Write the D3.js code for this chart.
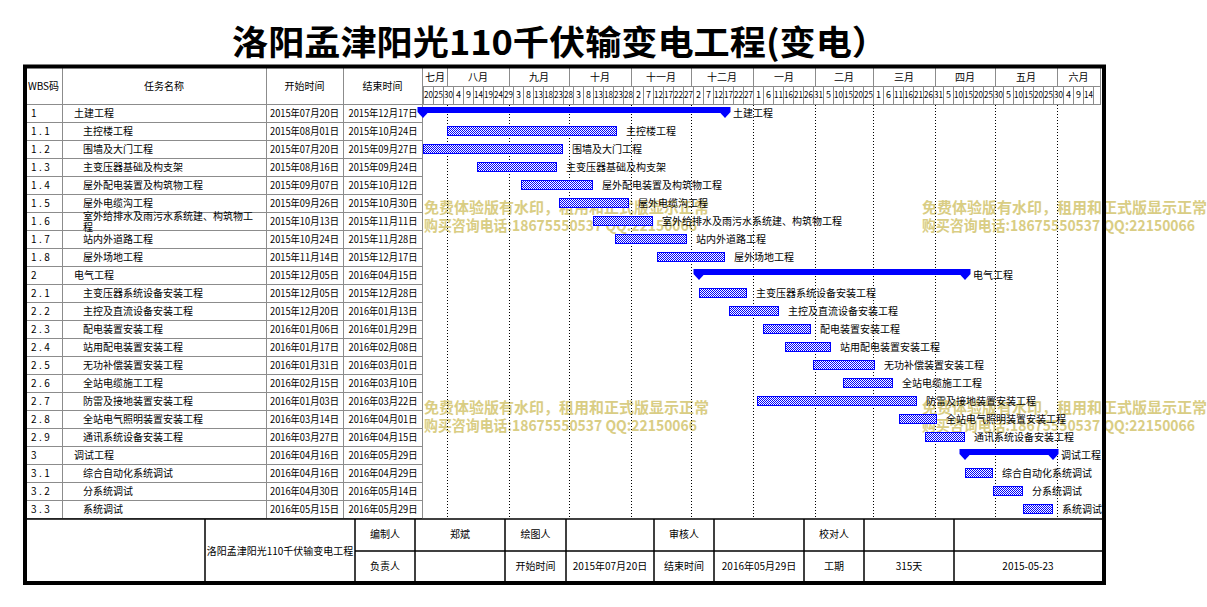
<!DOCTYPE html>
<html>
<head>
<meta charset="utf-8">
<script src="https://cdn.jsdelivr.net/npm/d3@7"></script>
<style>
body { margin: 0; background: #fff; }
svg text { font-family: "Noto Sans CJK SC", "Noto Sans", sans-serif; }
</style>
</head>
<body>
<svg id="chart" width="1207" height="607"></svg>
<script>
var title = "洛阳孟津阳光110千伏输变电工程(变电）";
var projectName = "洛阳孟津阳光110千伏输变电工程";

var wbs = ["1","1.1","1.2","1.3","1.4","1.5","1.6","1.7","1.8",
	"2","2.1","2.2","2.3","2.4","2.5","2.6","2.7","2.8","2.9",
	"3","3.1","3.2","3.3"];
var taskNames = ["土建工程","主控楼工程","围墙及大门工程","主变压器基础及构支架","屋外配电装置及构筑物工程",
	"屋外电缆沟工程","室外给排水及雨污水系统建、构筑物工程","站内外道路工程","屋外场地工程",
	"电气工程","主变压器系统设备安装工程","主控及直流设备安装工程","配电装置安装工程","站用配电装置安装工程",
	"无功补偿装置安装工程","全站电缆施工工程","防雷及接地装置安装工程","全站电气照明装置安装工程","通讯系统设备安装工程",
	"调试工程","综合自动化系统调试","分系统调试","系统调试"];
var startDates = ["2015-07-20","2015-08-01","2015-07-20","2015-08-16","2015-09-07","2015-09-26","2015-10-13","2015-10-24","2015-11-14",
	"2015-12-05","2015-12-05","2015-12-20","2016-01-06","2016-01-17","2016-01-31","2016-02-15","2016-01-03","2016-03-14","2016-03-27",
	"2016-04-16","2016-04-16","2016-04-30","2016-05-15"];
var endDates = ["2015-12-17","2015-10-24","2015-09-27","2015-09-24","2015-10-12","2015-10-30","2015-11-11","2015-11-28","2015-12-17",
	"2016-04-15","2015-12-28","2016-01-13","2016-01-29","2016-02-08","2016-03-01","2016-03-10","2016-03-22","2016-04-01","2016-04-15",
	"2016-05-29","2016-04-29","2016-05-14","2016-05-29"];
var isSummary = [1,0,0,0,0,0,0,0,0, 1,0,0,0,0,0,0,0,0,0, 1,0,0,0];

var monthNames = ["七月","八月","九月","十月","十一月","十二月","一月","二月","三月","四月","五月","六月"];
var headerNames = ["WBS码","任务名称","开始时间","结束时间"];

var footerTop = ["编制人","郑斌","绘图人","","审核人","","校对人","",""];
var footerBottom = ["负责人","","开始时间","2015年07月20日","结束时间","2016年05月29日","工期","315天","2015-05-23"];

var watermark = ["免费体验版有水印，租用和正式版显示正常","购买咨询电话:18675550537 QQ:22150066"];

// layout
var svg = d3.select("#chart");
var L = 25, R = 1104, T = 66.5, B = 583;
var tableCols = [25, 62, 266, 343, 422];
var footCols = [205, 355, 415, 505, 566, 654, 714, 804, 864, 954, 1102];
var headTop = 68, headMid = 86, headBot = 104, bodyBot = 518, footMid = 551, footBot = 582;
var blue = "#0000ff", grid = "#8c8c8c";

var parse = d3.utcParse("%Y-%m-%d");
var fmt = d3.utcFormat("%Y年%m月%d日");
var t0 = parse("2015-07-20"), t1 = parse("2016-06-19");
var x = d3.scaleUtc().domain([t0, t1]).range([423, 1093]);
var y = d3.scaleBand().domain(wbs).range([headBot, bodyBot]);

var tasks = wbs.map(function(w, i) {
	return {wbs: w, name: taskNames[i], start: parse(startDates[i]),
		end: d3.utcDay.offset(parse(endDates[i]), 1), summary: isSummary[i] == 1};
});

var defs = svg.append("defs");
var pat = defs.append("pattern").attr("id", "checker").attr("patternUnits", "userSpaceOnUse")
	.attr("width", 2).attr("height", 2);
pat.append("rect").attr("width", 2).attr("height", 2).attr("fill", "#fff");
pat.append("rect").attr("width", 1).attr("height", 1).attr("fill", blue);
pat.append("rect").attr("x", 1).attr("y", 1).attr("width", 1).attr("height", 1).attr("fill", blue);

// title
svg.append("text").attr("x", 560).attr("y", 55).attr("text-anchor", "middle")
	.attr("font-size", 34).attr("font-weight", "bold").attr("textLength", 656)
	.attr("lengthAdjust", "spacingAndGlyphs").text(title);

// watermark (under everything else)
[[424, 208], [922, 208], [424, 408], [922, 408]].forEach(function(p) {
	watermark.forEach(function(s, k) {
		svg.append("text").attr("x", p[0]).attr("y", p[1] + k * 18).attr("dy", "0.36em")
			.attr("font-size", 15).attr("font-weight", "bold").attr("fill", "#d9cd84")
			.attr("textLength", k == 0 ? 285 : 273).attr("lengthAdjust", "spacingAndGlyphs")
			.text(s);
	});
});

// header grid
var g = svg.append("g").attr("stroke", grid).attr("stroke-width", 1).attr("shape-rendering", "crispEdges");
var months = d3.utcMonth.range(d3.utcMonth.ceil(t0), t1);
months.forEach(function(m) {
	g.append("line").attr("x1", x(m) + 0.5).attr("x2", x(m) + 0.5).attr("y1", headTop).attr("y2", headMid);
});
g.append("line").attr("x1", 422).attr("x2", 1101).attr("y1", headMid + 0.5).attr("y2", headMid + 0.5);
var dayTicks = d3.range(0, 67).map(function(i) { return d3.utcDay.offset(t0, i * 5); });
dayTicks.concat([t1]).forEach(function(d) {
	g.append("line").attr("x1", x(d) + 0.5).attr("x2", x(d) + 0.5).attr("y1", headMid).attr("y2", headBot);
});
g.append("line").attr("x1", 1100.5).attr("x2", 1100.5).attr("y1", headTop).attr("y2", headBot);
g.append("line").attr("x1", L).attr("x2", 1101).attr("y1", headBot + 0.5).attr("y2", headBot + 0.5);

// table grid
wbs.forEach(function(w) {
	var yy = y(w) + y.bandwidth();
	g.append("line").attr("x1", L).attr("x2", 422).attr("y1", yy + 0.5).attr("y2", yy + 0.5);
});
tableCols.slice(1).forEach(function(c) {
	g.append("line").attr("x1", c + 0.5).attr("x2", c + 0.5).attr("y1", headTop).attr("y2", bodyBot);
});

// header texts
var monthEdges = [t0].concat(months).concat([t1]);
monthNames.forEach(function(mn, i) {
	var a = x(monthEdges[i]), b = i == monthNames.length - 1 ? 1100 : x(monthEdges[i + 1]);
	svg.append("text").attr("x", (a + b) / 2).attr("y", (headTop + headMid) / 2).attr("dy", "0.36em")
		.attr("text-anchor", "middle").attr("font-size", 10).text(mn);
});
dayTicks.forEach(function(d) {
	var lab = String(d.getUTCDate());
	var t = svg.append("text").attr("x", x(d) + 5.5).attr("y", (headMid + headBot) / 2).attr("dy", "0.36em")
		.attr("text-anchor", "middle").attr("font-size", 9).text(lab);
	if (lab.length > 1) t.attr("textLength", 9).attr("lengthAdjust", "spacingAndGlyphs");
});
headerNames.forEach(function(h, i) {
	svg.append("text").attr("x", (tableCols[i] + tableCols[i + 1]) / 2).attr("y", (headTop + headBot) / 2)
		.attr("dy", "0.36em").attr("text-anchor", "middle").attr("font-size", 10).text(h);
});

// table rows
tasks.forEach(function(t) {
	var cy = y(t.wbs) + y.bandwidth() / 2;
	svg.append("text").attr("x", 31).attr("y", cy).attr("dy", "0.36em").attr("font-size", 10)
		.attr("letter-spacing", 2.5).text(t.wbs);
	var nx = t.summary ? 74 : 83;
	var maxChars = 17;
	if (t.name.length > maxChars + 0) {
		var tx = svg.append("text").attr("x", nx).attr("y", cy - 5).attr("dy", "0.36em").attr("font-size", 10);
		tx.append("tspan").attr("x", nx).text(t.name.slice(0, maxChars));
		tx.append("tspan").attr("x", nx).attr("dy", 11).text(t.name.slice(maxChars));
	} else {
		svg.append("text").attr("x", nx).attr("y", cy).attr("dy", "0.36em").attr("font-size", 10).text(t.name);
	}
	svg.append("text").attr("x", 304.5).attr("y", cy).attr("dy", "0.36em").attr("text-anchor", "middle")
		.attr("font-size", 10).attr("textLength", 69).attr("lengthAdjust", "spacingAndGlyphs").text(fmt(t.start));
	svg.append("text").attr("x", 383).attr("y", cy).attr("dy", "0.36em").attr("text-anchor", "middle")
		.attr("font-size", 10).attr("textLength", 69).attr("lengthAdjust", "spacingAndGlyphs")
		.text(fmt(d3.utcDay.offset(t.end, -1)));
});

// dotted month lines
months.forEach(function(m) {
	svg.append("line").attr("x1", x(m) + 0.5).attr("x2", x(m) + 0.5).attr("y1", headBot + 1).attr("y2", bodyBot + 1)
		.attr("stroke", "#000").attr("stroke-dasharray", "1,2").attr("shape-rendering", "crispEdges");
});

// bars
tasks.forEach(function(t) {
	var top = y(t.wbs);
	var x1 = x(t.start), x2 = x(t.end);
	if (t.summary) {
		svg.append("rect").attr("x", x1).attr("y", top + 3).attr("width", x2 - x1).attr("height", 6).attr("fill", blue);
		[x1, x2].forEach(function(px) {
			svg.append("polygon").attr("fill", blue)
				.attr("points", [[px - 5.5, top + 3], [px + 5.5, top + 3], [px + 5.5, top + 8], [px, top + 14], [px - 5.5, top + 8]].join(" "));
		});
		svg.append("text").attr("x", x2 + 8).attr("y", top + 9).attr("dy", "0.36em").attr("font-size", 10).text(t.name);
	} else {
		svg.append("rect").attr("x", x1 + 0.5).attr("y", top + 4.5).attr("width", x2 - x1 - 1).attr("height", 9)
			.attr("fill", "url(#checker)").attr("stroke", blue).attr("stroke-width", 1);
		svg.append("text").attr("x", x2 + 9).attr("y", top + 9).attr("dy", "0.36em").attr("font-size", 10).text(t.name);
	}
});

// footer
var fg = svg.append("g").attr("stroke", "#000").attr("stroke-width", 1.5);
fg.append("line").attr("x1", L).attr("x2", R).attr("y1", bodyBot + 1).attr("y2", bodyBot + 1);
fg.append("line").attr("x1", footCols[1]).attr("x2", R).attr("y1", footMid).attr("y2", footMid);
footCols.slice(0, -1).forEach(function(c) {
	fg.append("line").attr("x1", c).attr("x2", c).attr("y1", bodyBot + 1).attr("y2", footBot);
});
svg.append("text").attr("x", (footCols[0] + footCols[1]) / 2).attr("y", footMid).attr("dy", "0.36em")
	.attr("text-anchor", "middle").attr("font-size", 10).text(projectName);
footerTop.forEach(function(s, i) {
	svg.append("text").attr("x", (footCols[i + 1] + footCols[i + 2]) / 2).attr("y", (bodyBot + footMid) / 2)
		.attr("dy", "0.36em").attr("text-anchor", "middle").attr("font-size", 10).text(s);
});
footerBottom.forEach(function(s, i) {
	svg.append("text").attr("x", (footCols[i + 1] + footCols[i + 2]) / 2).attr("y", (footMid + footBot) / 2)
		.attr("dy", "0.36em").attr("text-anchor", "middle").attr("font-size", 10).text(s);
});

// outer frame
svg.append("rect").attr("x", L).attr("y", T).attr("width", R - L).attr("height", B - T)
	.attr("fill", "none").attr("stroke", "#000").attr("stroke-width", 4);
</script>
</body>
</html>
